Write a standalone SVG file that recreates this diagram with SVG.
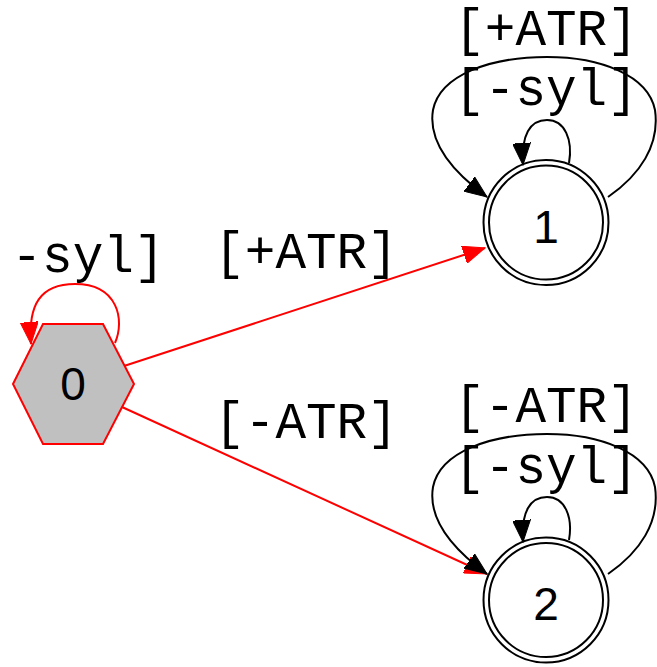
<svg xmlns="http://www.w3.org/2000/svg" width="657" height="667" viewBox="0 0 657 667">
<defs>
<style>
.lbl{font-family:"Liberation Mono","Courier New",monospace;font-size:51px;fill:#000;text-anchor:middle}
.num{font-family:"Liberation Sans",Arial,sans-serif;font-size:46px;fill:#000;text-anchor:middle}
.e{fill:none;stroke:#000;stroke-width:2}
.r{fill:none;stroke:#ff0000;stroke-width:2}
</style>
<marker id="ab" markerWidth="24" markerHeight="18" refX="22" refY="9" orient="auto" markerUnits="userSpaceOnUse"><path d="M0,0 L22,9 L0,18 Z" fill="#000" stroke="#000" stroke-width="1"/></marker>
<marker id="ar" markerWidth="24" markerHeight="18" refX="22" refY="9" orient="auto" markerUnits="userSpaceOnUse"><path d="M0,0 L22,9 L0,18 Z" fill="#ff0000" stroke="#ff0000" stroke-width="1"/></marker>
</defs>
<rect width="657" height="667" fill="#fff"/>
<g id="edges">
<path class="r" d="M115,343 C125,320 118,284 75,284 C40,284 28,305 31,344" marker-end="url(#ar)"/>
<text class="lbl" x="88" y="272">-syl]</text>
<path class="r" d="M124,366 L485,248" marker-end="url(#ar)"/>
<text class="lbl" x="306" y="268">[+ATR]</text>
<path class="r" d="M122,407 L487,574" marker-end="url(#ar)"/>
<text class="lbl" x="306" y="438">[-ATR]</text>
<path class="e" d="M569,163 C573,140 565,120 547,120 C530,120 521,135 523,165" marker-end="url(#ab)"/>
<text class="lbl" x="546" y="105">[-syl]</text>
<path class="e" d="M608,197 C640,175 660,145 655,110 C648,75 600,57 547,57 C490,57 440,75 433,110 C428,140 450,170 487,197" marker-end="url(#ab)"/>
<text class="lbl" x="546" y="45">[+ATR]</text>
<path class="e" d="M569,540 C573,517 565,497 547,497 C530,497 521,512 523,542" marker-end="url(#ab)"/>
<text class="lbl" x="546" y="483">[-syl]</text>
<path class="e" d="M608,574 C640,552 660,522 655,487 C648,452 600,434 547,434 C490,434 440,452 433,487 C428,517 450,547 487,574" marker-end="url(#ab)"/>
<text class="lbl" x="546" y="422">[-ATR]</text>
</g>
<g id="node0">
<polygon points="13,384 43,324 103,324 134,384 103,444 43,444" fill="#c0c0c0" stroke="#ff0000" stroke-width="2"/>
<text class="num" x="73" y="400">0</text>
</g>
<g id="node1">
<circle cx="546" cy="222.5" r="62.5" fill="none" stroke="#000" stroke-width="2"/>
<circle cx="546" cy="222.5" r="57" fill="none" stroke="#000" stroke-width="2"/>
<text class="num" x="546" y="243">1</text>
</g>
<g id="node2">
<circle cx="546" cy="600" r="62.5" fill="none" stroke="#000" stroke-width="2"/>
<circle cx="546" cy="600" r="57" fill="none" stroke="#000" stroke-width="2"/>
<text class="num" x="546" y="620">2</text>
</g>
</svg>
